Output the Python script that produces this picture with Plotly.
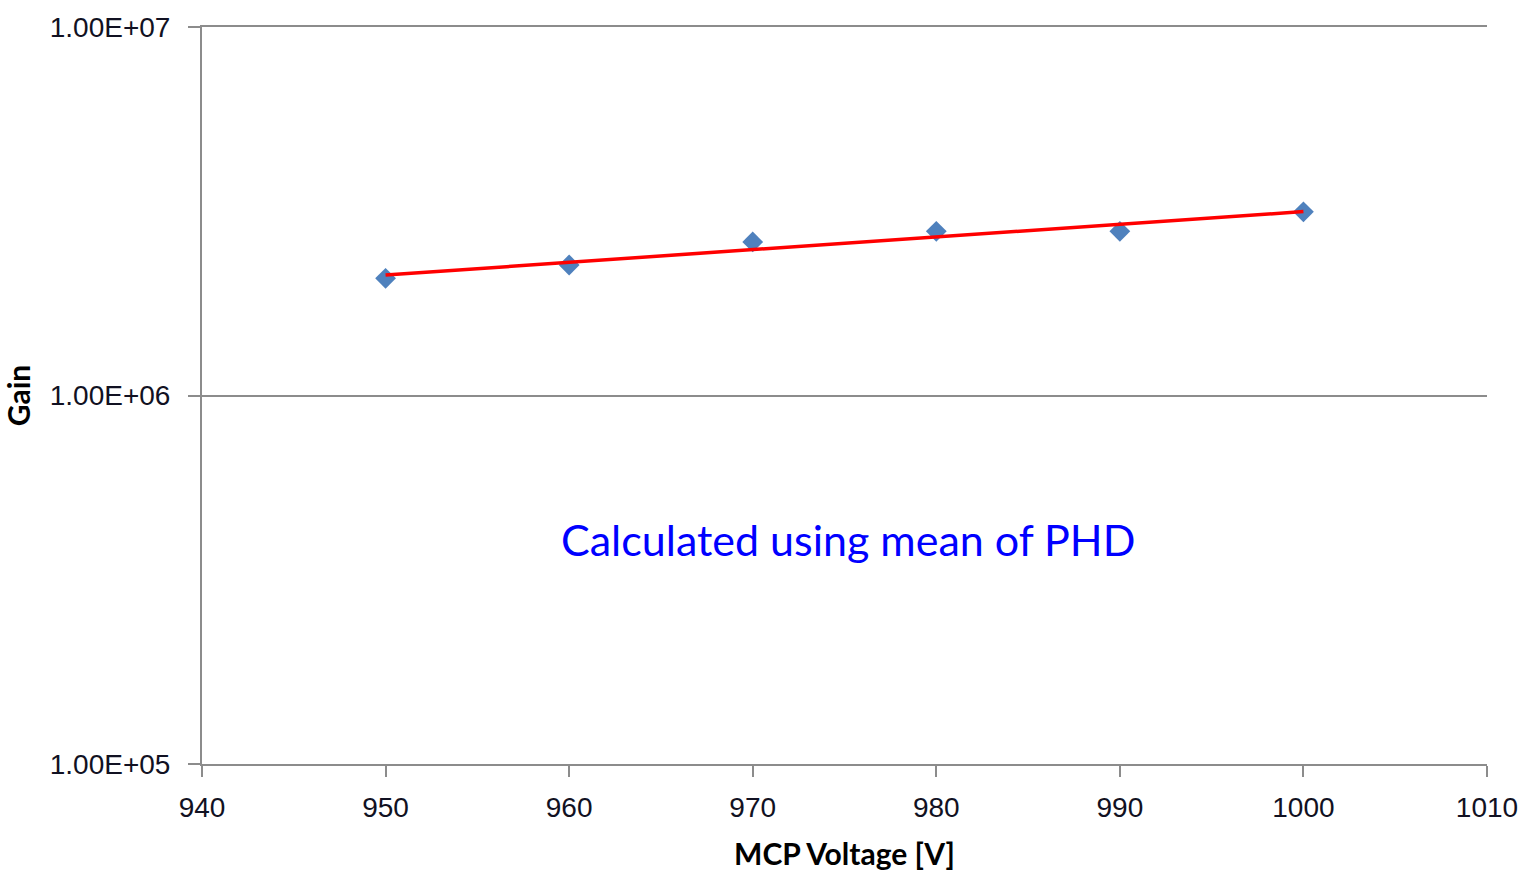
import numpy as np
import plotly.graph_objects as go

# MCP voltage scan and measured gain
voltage = [950, 960, 970, 980, 990, 1000]
gain = [2.08e6, 2.26e6, 2.61e6, 2.79e6, 2.79e6, 3.15e6]

x_ticks = [940, 950, 960, 970, 980, 990, 1000, 1010]
y_ticks = [1e5, 1e6, 1e7]
y_tick_text = ["1.00E+05", "1.00E+06", "1.00E+07"]

# exponential trend line (least squares on log10 of gain)
slope, intercept = np.polyfit(voltage, np.log10(gain), 1)
trend_x = np.array([voltage[0], voltage[-1]])
trend_y = 10 ** (slope * trend_x + intercept)

axis_color = "#8c8c8c"
tick_font = dict(family="Liberation Sans, Arial, sans-serif", size=28, color="#111122")
title_font = dict(family="Lato, sans-serif", size=30, color="#000000")

fig = go.Figure()
fig.add_trace(go.Scatter(
    x=voltage, y=gain, mode="markers",
    marker=dict(symbol="diamond", size=16, color="#4F81BD"),
    showlegend=False,
))
fig.add_trace(go.Scatter(
    x=trend_x, y=trend_y, mode="lines",
    line=dict(color="#FF0000", width=3.5),
    showlegend=False,
))

fig.update_layout(
    width=1523, height=873,
    margin=dict(l=202, r=36, t=27, b=109),
    paper_bgcolor="white", plot_bgcolor="white",
    xaxis=dict(
        range=[940, 1010], tickvals=x_ticks, automargin=False,
        showline=True, linecolor=axis_color, linewidth=2, mirror=True,
        ticks="outside", ticklen=11, tickwidth=2, tickcolor=axis_color,
        ticklabelstandoff=6,
        showgrid=False, zeroline=False,
        tickfont=tick_font,
        title=dict(text="<b>MCP Voltage [V]</b>", font=title_font, standoff=22),
    ),
    yaxis=dict(
        type="log", range=[5, 7], tickvals=y_ticks, ticktext=y_tick_text,
        automargin=False,
        showline=True, linecolor=axis_color, linewidth=2,
        ticks="outside", ticklen=12, tickwidth=2, tickcolor=axis_color,
        ticklabelstandoff=12,
        showgrid=True, gridcolor=axis_color, gridwidth=1.5,
        zeroline=False,
        tickfont=tick_font,
        title=dict(text="<b>Gain</b>", font=title_font, standoff=10),
    ),
    annotations=[dict(
        x=975.2, y=5.608, xref="x", yref="y",
        text="Calculated using mean of PHD", showarrow=False,
        font=dict(family="Lato, sans-serif", size=43, color="#0000FF"),
    )],
)

fig.write_html("out.html")
